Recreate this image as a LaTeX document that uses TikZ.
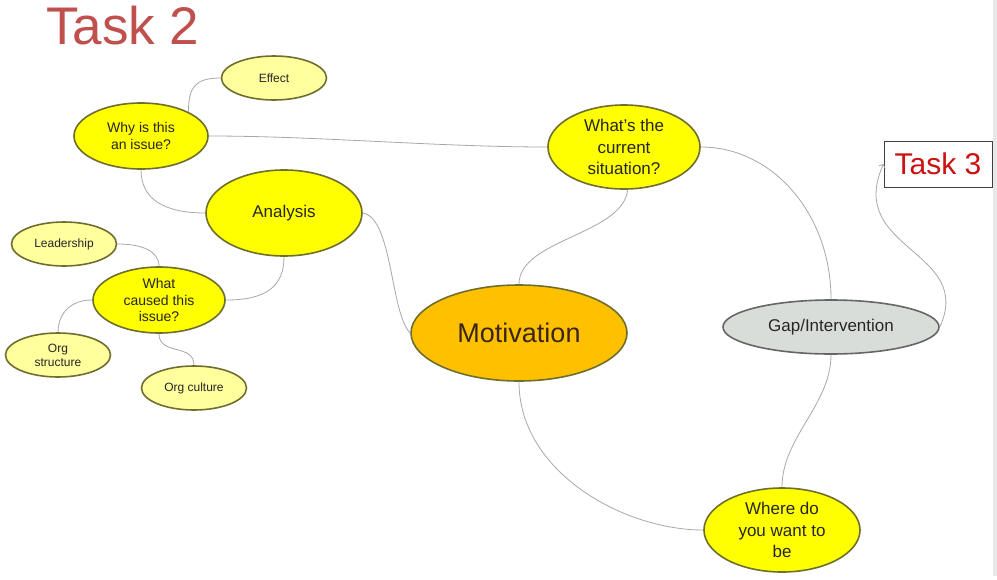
\documentclass[tikz,border=0pt]{standalone}
\usepackage{fontspec}
\setmainfont{Liberation Sans}
\usetikzlibrary{shapes.geometric,arrows.meta}
\definecolor{mapyellow}{HTML}{FFFF00}
\definecolor{paleyellow}{HTML}{FFFF9E}
\definecolor{mapgold}{HTML}{FFC000}
\definecolor{gapgrey}{HTML}{D9DDD9}
\definecolor{rimolive}{HTML}{6E6E2E}
\definecolor{linkgrey}{HTML}{A8A8A8}
\definecolor{tasktwo}{HTML}{C0504D}
\definecolor{taskthree}{HTML}{CC1111}
\tikzset{
  bubble/.style={ellipse,draw=rimolive,line width=1.6pt,inner sep=0pt,align=center,text=black!85},
  subtopic/.style={bubble,fill=paleyellow,minimum width=105pt,minimum height=44pt,font=\fontsize{12}{14}\selectfont},
  topic/.style={bubble,fill=mapyellow,font=\fontsize{14}{16.5}\selectfont},
  bigtopic/.style={bubble,fill=mapyellow,font=\fontsize{17}{21.5}\selectfont},
  link/.style={draw=linkgrey,line width=0.8pt}
}
\begin{document}
\begin{tikzpicture}[x=1pt,y=-1pt]
        \fill[white] (0,0) rectangle (997,579);
        \useasboundingbox (0,0) rectangle (997,579);
        \fill[black!9] (993,0) rectangle (997,576);
        % headings
        \node[anchor=base west,inner sep=0pt,text=tasktwo,font=\fontsize{53}{53}\selectfont] (task2) at (46,44) {Task 2};
        \node[draw=black!75,line width=1pt,minimum width=108pt,minimum height=46pt,inner sep=0pt,text=taskthree,font=\fontsize{30}{30}\selectfont] (task3) at (938,164) {Task 3};
        % left branch
        \node[subtopic] (effect) at (274,78) {Effect};
        \node[topic,minimum width=134pt,minimum height=66pt] (why) at (141,136) {Why is this\\an issue?};
        \node[bigtopic,minimum width=156pt,minimum height=86pt] (analysis) at (284,213) {Analysis};
        \node[subtopic] (leader) at (64,244) {Leadership};
        \node[topic,minimum width=132pt,minimum height=66pt] (cause) at (159,300) {What\\caused this\\issue?};
        \node[subtopic] (orgstruct) at (58,355) {Org\\structure};
        \node[subtopic] (orgcult) at (194,388) {Org culture};
        % centre and right
        \node[bigtopic,minimum width=152pt,minimum height=84pt] (current) at (624,147) {What’s the\\current\\situation?};
        \node[bubble,fill=mapgold,minimum width=216pt,minimum height=96pt,font=\fontsize{27}{30}\selectfont,text=brown!30!black] (motiv) at (519,333) {Motivation};
        \node[bubble,fill=gapgrey,draw=black!60,minimum width=216pt,minimum height=54pt,font=\fontsize{17}{20}\selectfont] (gap) at (831,327) {Gap/Intervention};
        \node[bigtopic,minimum width=156pt,minimum height=84pt] (where) at (782,530) {Where do\\you want to\\be};
        % links
        \draw[link] (effect.west) .. controls +(-25,0) and +(0,-25) .. (why.27);
        \draw[link] (why.east) .. controls +(110,0) and +(-110,0) .. (current.west);
        \draw[link] (why.south) .. controls +(0,30) and +(-40,0) .. (analysis.west);
        \draw[link] (analysis.east) .. controls +(30,5) and +(-20,-20) .. (motiv.west);
        \draw[link] (analysis.south) .. controls +(0,30) and +(40,0) .. (cause.east);
        \draw[link] (leader.east) .. controls +(25,0) and +(0,-15) .. (cause.north);
        \draw[link] (cause.west) .. controls +(-25,0) and +(0,-15) .. (orgstruct.north);
        \draw[link] (cause.south) .. controls +(0,22) and +(0,-22) .. (orgcult.north);
        \draw[link] (current.275) .. controls +(-5,45) and +(0,-45) .. (motiv.north);
        \draw[link] (current.east) .. controls +(72,0) and +(0,-85) .. (gap.north);
        \draw[link,-{Straight Barb[length=3pt,width=7pt]}] (gap.east) .. controls (975,250) and (845,250) .. (task3.west);
        \draw[link] (gap.south) .. controls +(0,50) and +(0,-50) .. (where.north);
        \draw[link] (motiv.south) .. controls +(0,90) and +(-80,0) .. (where.west);
    \end{tikzpicture}
\end{document}
